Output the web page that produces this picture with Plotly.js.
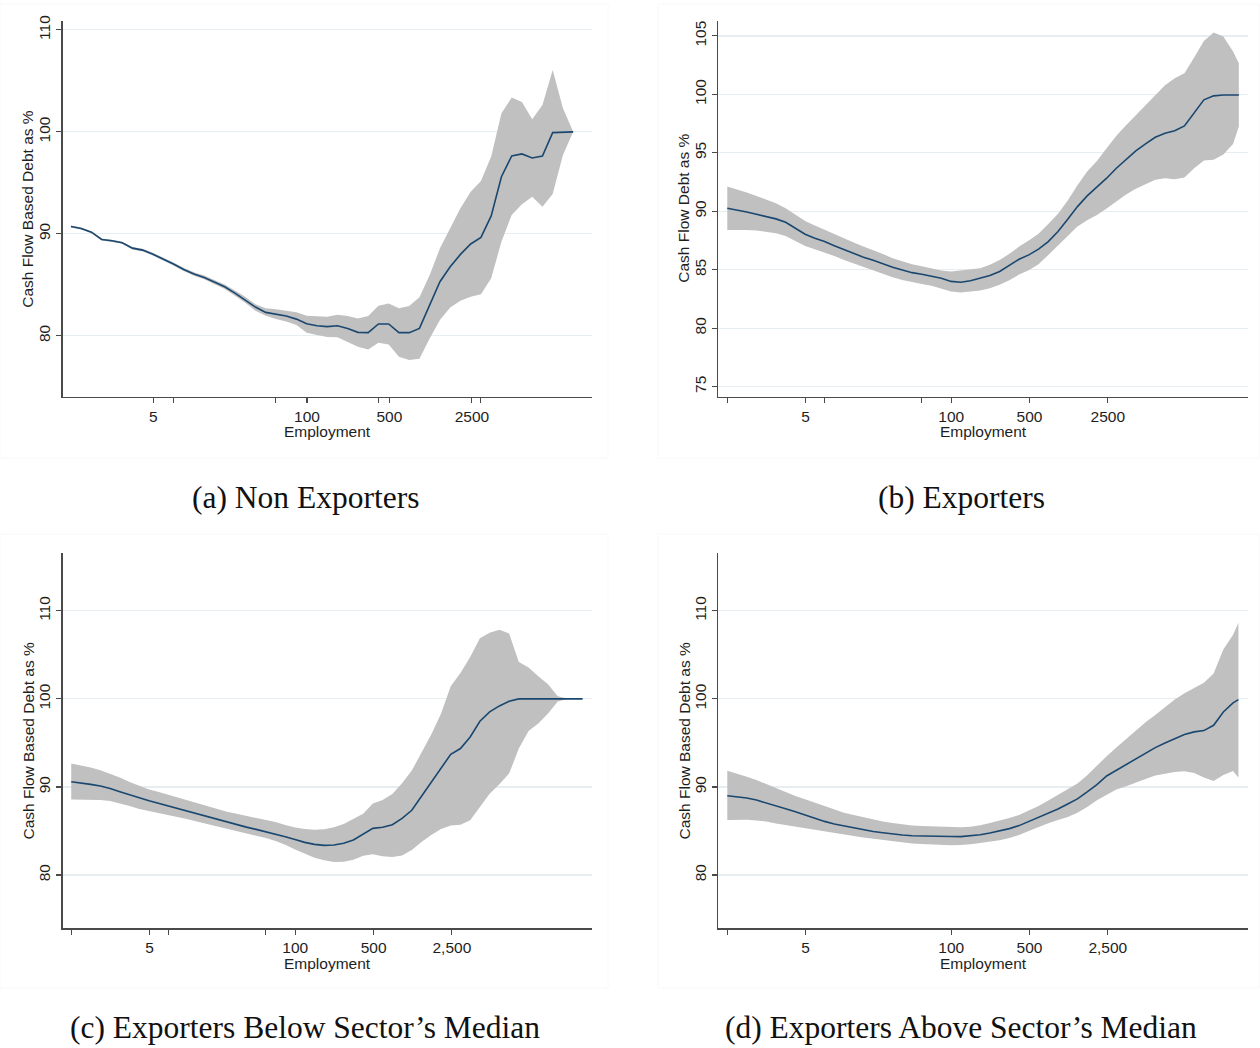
<!DOCTYPE html>
<html>
<head>
<meta charset="utf-8">
<script src="https://cdn.plot.ly/plotly-3.0.1.min.js"></script>
<style>html,body{margin:0;padding:0;background:#fff;}#chart{width:1260px;height:1048px;}</style>
</head>
<body>
<div id="chart"></div>
<script>
// Employment grid at which the smoothed estimates are evaluated
const EMP = [1, 1.2214, 1.4918, 1.8221, 2.2255, 2.7183, 3.3201, 4.0552, 4.9530, 6.0496,
  7.3891, 9.0250, 11.023, 13.464, 16.445, 20.086, 24.533, 29.964, 36.598, 44.701,
  54.598, 66.686, 81.451, 99.484, 121.51, 148.41, 181.27, 221.41, 270.43, 330.30,
  403.43, 492.75, 601.85, 735.10, 897.85, 1096.6, 1339.4, 1636.0, 1998.2, 2440.6,
  2981.0, 3641.0, 4447.1, 5431.7, 6634.2, 8103.1, 9897.1, 12088, 14765, 18034,
  22026, 26903, 32860, 40135];
// largest employment reached by each curve
const lastEmpA = 18034, lastEmpB = 37000, lastEmpC = 36700, lastEmpD = 36700;

// (a) Non Exporters
const lineA = [90.72, 90.52, 90.16, 89.44, 89.31, 89.12, 88.59, 88.40, 88.00, 87.55,
  87.03, 86.50, 86.05, 85.72, 85.29, 84.80, 84.18, 83.53, 82.81, 82.29,
  82.09, 81.93, 81.63, 81.18, 80.98, 80.89, 80.98, 80.72, 80.33, 80.30,
  81.15, 81.15, 80.30, 80.30, 80.72, 83.01, 85.30, 86.77, 87.98, 89.00,
  89.65, 91.75, 95.60, 97.63, 97.83, 97.44, 97.63, 99.92, 99.99, 100.00];
const upperA = [90.82, 90.62, 90.26, 89.54, 89.42, 89.23, 88.71, 88.53, 88.13, 87.69,
  87.18, 86.66, 86.22, 85.90, 85.49, 85.02, 84.43, 83.82, 83.10, 82.70,
  82.60, 82.45, 82.30, 81.97, 81.90, 81.87, 82.06, 81.93, 81.70, 81.93,
  82.95, 83.17, 82.69, 82.91, 83.77, 85.96, 88.57, 90.54, 92.50, 94.13,
  95.18, 97.57, 101.82, 103.36, 102.93, 101.23, 102.64, 106.07, 102.31, 100.00];
const lowerA = [90.62, 90.42, 90.06, 89.34, 89.20, 89.01, 88.47, 88.27, 87.87, 87.41,
  86.88, 86.34, 85.88, 85.54, 85.09, 84.58, 83.93, 83.24, 82.45, 81.95,
  81.65, 81.40, 81.05, 80.30, 80.07, 79.87, 79.84, 79.41, 78.92, 78.66,
  79.32, 79.15, 77.94, 77.61, 77.75, 79.74, 81.54, 82.78, 83.44, 83.83,
  84.06, 85.63, 89.23, 91.85, 92.89, 93.64, 92.66, 93.91, 97.73, 100.00];

// (b) Exporters
const lineB = [90.26, 90.12, 89.94, 89.74, 89.55, 89.35, 89.06, 88.55, 88.03, 87.69,
  87.41, 87.06, 86.72, 86.41, 86.07, 85.81, 85.50, 85.21, 84.98, 84.75,
  84.61, 84.47, 84.27, 84.00, 83.93, 84.05, 84.25, 84.50, 84.85, 85.36,
  85.90, 86.27, 86.76, 87.41, 88.27, 89.32, 90.40, 91.32, 92.06, 92.83,
  93.68, 94.45, 95.17, 95.76, 96.33, 96.68, 96.88, 97.30, 98.44, 99.53,
  99.87, 99.95, 99.95, 99.95];
const upperB = [92.11, 91.88, 91.60, 91.31, 91.03, 90.69, 90.26, 89.69, 89.17, 88.78,
  88.40, 88.03, 87.66, 87.32, 86.98, 86.69, 86.35, 85.98, 85.70, 85.47,
  85.30, 85.10, 84.93, 84.85, 84.93, 84.99, 85.13, 85.42, 85.84, 86.36,
  86.98, 87.50, 88.07, 88.92, 89.78, 90.92, 92.23, 93.40, 94.31, 95.40,
  96.45, 97.36, 98.22, 99.10, 99.95, 100.78, 101.38, 101.81, 103.15, 104.57,
  105.29, 104.94, 103.66, 102.66];
const lowerB = [88.40, 88.43, 88.40, 88.35, 88.26, 88.12, 87.89, 87.49, 87.04, 86.75,
  86.49, 86.18, 85.84, 85.55, 85.27, 84.96, 84.64, 84.36, 84.13, 83.93,
  83.79, 83.62, 83.39, 83.14, 83.05, 83.11, 83.22, 83.42, 83.71, 84.11,
  84.59, 84.96, 85.47, 86.27, 87.07, 87.90, 88.69, 89.24, 89.69, 90.23,
  90.86, 91.43, 91.92, 92.34, 92.69, 92.83, 92.74, 92.88, 93.68, 94.34,
  94.40, 94.85, 95.76, 97.25];

// (c) Exporters Below Sector's Median
const lineC = [90.59, 90.48, 90.29, 90.10, 89.83, 89.46, 89.08, 88.77, 88.43, 88.13,
  87.83, 87.53, 87.19, 86.88, 86.62, 86.28, 85.97, 85.71, 85.44, 85.18,
  84.92, 84.65, 84.35, 84.03, 83.71, 83.48, 83.37, 83.41, 83.60, 83.98,
  84.62, 85.30, 85.42, 85.72, 86.44, 87.35, 88.94, 90.53, 92.20, 93.71,
  94.36, 95.68, 97.46, 98.52, 99.20, 99.73, 100, 100, 100, 100,
  100, 100, 100];
const upperC = [92.67, 92.48, 92.22, 91.91, 91.54, 91.08, 90.55, 90.10, 89.72, 89.42,
  89.11, 88.77, 88.43, 88.13, 87.83, 87.49, 87.19, 86.96, 86.73, 86.54,
  86.32, 86.01, 85.67, 85.40, 85.23, 85.15, 85.19, 85.42, 85.80, 86.36,
  86.97, 88.11, 88.52, 89.20, 90.42, 91.86, 93.83, 95.95, 98.30, 101.44,
  102.95, 104.77, 106.89, 107.50, 107.84, 107.42, 104.20, 103.56, 102.58, 101.67,
  100.30, 100.04, 100];
const lowerC = [88.58, 88.58, 88.58, 88.51, 88.40, 88.13, 87.83, 87.49, 87.27, 87.04,
  86.81, 86.59, 86.32, 86.05, 85.79, 85.53, 85.26, 85.00, 84.77, 84.50,
  84.20, 83.86, 83.44, 82.90, 82.39, 81.97, 81.67, 81.48, 81.52, 81.74,
  82.20, 82.35, 82.12, 82.05, 82.23, 82.84, 83.75, 84.55, 85.23, 85.61,
  85.72, 86.21, 87.73, 89.24, 90.30, 91.52, 94.36, 96.36, 97.20, 98.33,
  99.70, 100, 100];

// (d) Exporters Above Sector's Median
const lineD = [89.00, 88.89, 88.74, 88.51, 88.21, 87.90, 87.53, 87.19, 86.81, 86.43,
  86.09, 85.79, 85.56, 85.33, 85.14, 84.95, 84.80, 84.65, 84.54, 84.46,
  84.42, 84.39, 84.39, 84.38, 84.36, 84.43, 84.58, 84.77, 85.00, 85.27,
  85.61, 86.06, 86.55, 87.05, 87.50, 88.07, 88.64, 89.43, 90.27, 91.25,
  91.89, 92.54, 93.18, 93.86, 94.47, 95.00, 95.49, 95.95, 96.25, 96.40,
  97.00, 98.52, 99.55, 99.92];
const upperD = [91.84, 91.54, 91.16, 90.78, 90.33, 89.84, 89.38, 88.96, 88.59, 88.21,
  87.76, 87.38, 87.08, 86.81, 86.55, 86.32, 86.09, 85.90, 85.75, 85.63,
  85.56, 85.52, 85.48, 85.40, 85.42, 85.49, 85.64, 85.91, 86.17, 86.48,
  86.82, 87.31, 87.84, 88.45, 89.09, 89.70, 90.38, 91.33, 92.42, 93.48,
  94.47, 95.45, 96.44, 97.35, 98.18, 99.02, 99.92, 100.64, 101.21, 101.82,
  102.88, 105.61, 107.27, 108.64];
const lowerD = [86.24, 86.28, 86.28, 86.20, 86.09, 85.86, 85.67, 85.52, 85.33, 85.14,
  84.95, 84.76, 84.57, 84.42, 84.27, 84.12, 83.97, 83.82, 83.70, 83.59,
  83.51, 83.44, 83.40, 83.37, 83.41, 83.48, 83.64, 83.79, 83.94, 84.20,
  84.55, 85.00, 85.45, 85.87, 86.25, 86.59, 87.08, 87.73, 88.48, 89.13,
  89.70, 90.08, 90.45, 90.91, 91.29, 91.52, 91.70, 91.78, 91.59, 91.06,
  90.68, 91.36, 91.82, 91.06];

// Tick definitions
const xTicksA = [5, 7.3891, 54.598, 100, 403.43, 500, 2500, 2981.0];
const xLabelsA = ['5', '', '', '100', '', '500', '2500', ''];
const xTicksB = [1, 5, 7.3891, 54.598, 100, 500, 2500];
const xLabelsB = ['', '5', '', '', '100', '500', '2500'];
const xTicksC = [1, 5, 7.3891, 54.598, 100, 500, 2500];
const xLabelsC = ['', '5', '', '', '100', '500', '2,500'];
const xTicksD = [1, 5, 100, 500, 2500];
const xLabelsD = ['', '5', '100', '500', '2,500'];
const yTicksA = [80, 90, 100, 110];
const yTicksB = [75, 80, 85, 90, 95, 100, 105];
const yTicksCD = [80, 90, 100, 110];

const yTitleA = 'Cash Flow Based Debt as %';
const yTitleB = 'Cash Flow Debt as %';
const xTitle = 'Employment';
const captions = ['(a) Non Exporters', '(b) Exporters',
  '(c) Exporters Below Sector\u2019s Median', '(d) Exporters Above Sector\u2019s Median'];

const NAVY = '#1a476f', BAND = '#c0c0c0';
function panel(n, line, up, lo, lastEmp) {
  const xs = EMP.slice(0, line.length - 1).concat([lastEmp]);
  const xa = n === 1 ? 'x' : 'x' + n, ya = n === 1 ? 'y' : 'y' + n;
  return [
    {x: xs, y: lo, xaxis: xa, yaxis: ya, mode: 'lines', line: {width: 0, color: BAND}, hoverinfo: 'skip', showlegend: false},
    {x: xs, y: up, xaxis: xa, yaxis: ya, mode: 'lines', line: {width: 0, color: BAND}, fill: 'tonexty', fillcolor: BAND, hoverinfo: 'skip', showlegend: false},
    {x: xs, y: line, xaxis: xa, yaxis: ya, mode: 'lines', line: {width: 1.6, color: NAVY}, showlegend: false}
  ];
}
const data = [].concat(panel(1, lineA, upperA, lowerA, lastEmpA), panel(2, lineB, upperB, lowerB, lastEmpB),
  panel(3, lineC, upperC, lowerC, lastEmpC), panel(4, lineD, upperD, lowerD, lastEmpD));

const FONT = 'Liberation Sans, Arial, sans-serif';
const TXT = '#1e1e1e';
const AXC = '#4a4a4a';
function xAxis(dom, rng, tv, tt, anchor) {
  return {type: 'log', domain: dom, range: rng, anchor: anchor, tickmode: 'array', tickvals: tv, ticktext: tt,
    showgrid: false, zeroline: false, showline: true, linecolor: AXC, linewidth: 1.3,
    ticks: 'outside', ticklen: 5, tickwidth: 1.1, tickcolor: AXC,
    tickfont: {family: FONT, size: 15.5, color: TXT}};
}
function yAxis(dom, rng, tv, anchor) {
  return {domain: dom, range: rng, anchor: anchor, tickmode: 'array', tickvals: tv, tickangle: -90,
    showgrid: true, gridcolor: '#e6eef1', gridwidth: 1.2, zeroline: false,
    showline: true, linecolor: AXC, linewidth: 1.3,
    ticks: 'outside', ticklen: 5, tickwidth: 1.1, tickcolor: AXC,
    tickfont: {family: FONT, size: 15.5, color: TXT}};
}
const W = 1260, H = 1048;
const dLeft = [62.5 / W, 592 / W], dRight = [718 / W, 1248 / W];
const dTop = [1 - 396.7 / H, 1 - 20.7 / H], dBot = [1 - 928.3 / H, 1 - 552.7 / H];

const capFont = {family: 'Liberation Serif, Times New Roman, serif', size: 31.5, color: '#111'};
const labFont = {family: FONT, size: 15.5, color: TXT};
function ann(text, x, y, font, angle) {
  return {text: text, xref: 'paper', yref: 'paper', x: x / W, y: 1 - y / H, showarrow: false,
    xanchor: 'center', yanchor: 'middle', font: font, textangle: angle || 0};
}
const frame = '#f8f8f8';
const layout = {
  width: W, height: H, margin: {l: 0, r: 0, t: 0, b: 0},
  paper_bgcolor: '#fff', plot_bgcolor: 'rgba(0,0,0,0)', showlegend: false,
  xaxis: xAxis(dLeft, [-0.0715, 4.4155], xTicksA, xLabelsA, 'y'),
  yaxis: yAxis(dTop, [74.02, 110.9], yTicksA, 'x'),
  xaxis2: xAxis(dRight, [-0.083, 4.650], xTicksB, xLabelsB, 'y2'),
  yaxis2: yAxis(dTop, [74.14, 106.3], yTicksB, 'x2'),
  xaxis3: xAxis(dLeft, [-0.0778, 4.6486], xTicksC, xLabelsC, 'y3'),
  yaxis3: yAxis(dBot, [73.95, 116.6], yTicksCD, 'x3'),
  xaxis4: xAxis(dRight, [-0.083, 4.650], xTicksD, xLabelsD, 'y4'),
  yaxis4: yAxis(dBot, [73.95, 116.6], yTicksCD, 'x4'),
  shapes: [
    {type: 'rect', xref: 'paper', yref: 'paper', x0: 0, x1: 608 / W, y0: 1 - 458 / H, y1: 1 - 4 / H, line: {color: frame, width: 1}},
    {type: 'rect', xref: 'paper', yref: 'paper', x0: 658 / W, x1: 1259 / W, y0: 1 - 458 / H, y1: 1 - 4 / H, line: {color: frame, width: 1}},
    {type: 'rect', xref: 'paper', yref: 'paper', x0: 0, x1: 608 / W, y0: 1 - 988 / H, y1: 1 - 534 / H, line: {color: frame, width: 1}},
    {type: 'rect', xref: 'paper', yref: 'paper', x0: 658 / W, x1: 1259 / W, y0: 1 - 988 / H, y1: 1 - 534 / H, line: {color: frame, width: 1}}
  ],
  annotations: [
    ann(yTitleA, 28, 208.7, labFont, -90),
    ann(yTitleB, 684, 208.7, labFont, -90),
    ann(yTitleA, 28, 740.5, labFont, -90),
    ann(yTitleA, 684, 740.5, labFont, -90),
    ann(xTitle, 327, 431, labFont),
    ann(xTitle, 983, 431, labFont),
    ann(xTitle, 327, 963, labFont),
    ann(xTitle, 983, 963, labFont),
    ann(captions[0], 305, 497, capFont),
    ann(captions[1], 961, 497, capFont),
    ann(captions[2], 305, 1027, capFont),
    ann(captions[3], 961, 1027, capFont)
  ]
};
Plotly.newPlot('chart', data, layout, {staticPlot: true, displayModeBar: false});
</script>
</body>
</html>
